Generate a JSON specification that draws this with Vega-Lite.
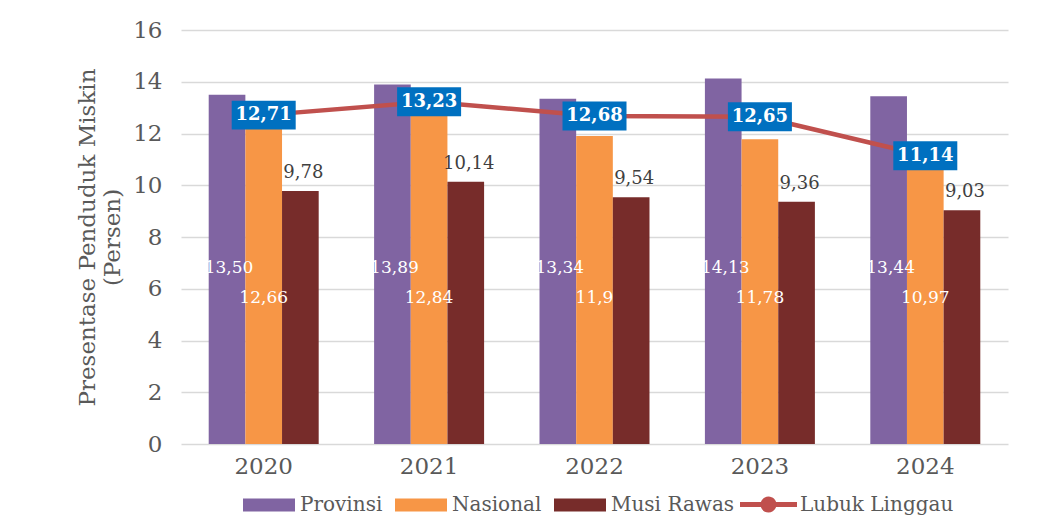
{
  "$schema": "https://vega.github.io/schema/vega-lite/v6.json",
  "width": 827,
  "height": 414,
  "autosize": {"type": "none"},
  "padding": {"left": 181, "top": 30, "right": 30, "bottom": 82},
  "background": "white",
  "config": {
    "font": "DejaVu Serif",
    "view": {"stroke": null}
  },
  "data": {
    "values": [
      {"year": "2020", "series": "Provinsi", "value": 13.50, "label": "13,50"},
      {"year": "2020", "series": "Nasional", "value": 12.66, "label": "12,66"},
      {"year": "2020", "series": "Musi Rawas", "value": 9.78, "label": "9,78"},
      {"year": "2020", "series": "Lubuk Linggau", "value": 12.71, "label": "12,71"},
      {"year": "2021", "series": "Provinsi", "value": 13.89, "label": "13,89"},
      {"year": "2021", "series": "Nasional", "value": 12.84, "label": "12,84"},
      {"year": "2021", "series": "Musi Rawas", "value": 10.14, "label": "10,14"},
      {"year": "2021", "series": "Lubuk Linggau", "value": 13.23, "label": "13,23"},
      {"year": "2022", "series": "Provinsi", "value": 13.34, "label": "13,34"},
      {"year": "2022", "series": "Nasional", "value": 11.9, "label": "11,9"},
      {"year": "2022", "series": "Musi Rawas", "value": 9.54, "label": "9,54"},
      {"year": "2022", "series": "Lubuk Linggau", "value": 12.68, "label": "12,68"},
      {"year": "2023", "series": "Provinsi", "value": 14.13, "label": "14,13"},
      {"year": "2023", "series": "Nasional", "value": 11.78, "label": "11,78"},
      {"year": "2023", "series": "Musi Rawas", "value": 9.36, "label": "9,36"},
      {"year": "2023", "series": "Lubuk Linggau", "value": 12.65, "label": "12,65"},
      {"year": "2024", "series": "Provinsi", "value": 13.44, "label": "13,44"},
      {"year": "2024", "series": "Nasional", "value": 10.97, "label": "10,97"},
      {"year": "2024", "series": "Musi Rawas", "value": 9.03, "label": "9,03"},
      {"year": "2024", "series": "Lubuk Linggau", "value": 11.14, "label": "11,14"}
    ]
  },
  "encoding": {
    "x": {
      "field": "year",
      "type": "nominal",
      "scale": {"paddingInner": 0.335, "paddingOuter": 0.1675},
      "axis": {
        "title": null,
        "labelAngle": 0,
        "labelFontSize": 23,
        "labelColor": "#595959",
        "labelPadding": 11,
        "domain": false,
        "ticks": false
      }
    }
  },
  "layer": [
    {
      "transform": [{"filter": "datum.series !== 'Lubuk Linggau'"}],
      "mark": {"type": "bar"},
      "encoding": {
        "xOffset": {"field": "series", "type": "nominal", "scale": {"domain": ["Provinsi", "Nasional", "Musi Rawas"], "paddingInner": 0, "paddingOuter": 0}},
        "y": {
          "field": "value",
          "type": "quantitative",
          "scale": {"domain": [0, 16], "nice": false},
          "axis": {
            "values": [0, 2, 4, 6, 8, 10, 12, 14, 16],
            "title": ["Presentase Penduduk Miskin", "(Persen)"],
            "titleFontSize": 23,
            "titleFontWeight": "normal",
            "titleColor": "#595959",
            "titlePadding": 8,
            "labelFontSize": 23,
            "labelColor": "#595959",
            "labelPadding": 19,
            "domain": false,
            "ticks": false,
            "gridColor": "#D9D9D9",
            "gridWidth": 1.5
          }
        },
        "color": {
          "field": "series",
          "type": "nominal",
          "scale": {"domain": ["Provinsi", "Nasional", "Musi Rawas"], "range": ["#8064A2", "#F79646", "#772C2A"]},
          "legend": {
            "title": null,
            "orient": "none",
            "legendX": 62,
            "legendY": 449,
            "direction": "horizontal",
            "symbolType": "M-1,-0.25H1V0.25H-1Z",
            "symbolSize": 2704,
            "symbolStrokeWidth": 0,
            "labelFontSize": 20,
            "labelColor": "#595959",
            "labelOffset": 5,
            "columnPadding": 12
          }
        }
      }
    },
    {
      "transform": [{"filter": "datum.series === 'Provinsi'"}],
      "mark": {"type": "text", "color": "white", "fontSize": 17, "dx": 2},
      "encoding": {
        "xOffset": {"field": "series", "type": "nominal"},
        "y": {"datum": 6.8, "type": "quantitative"},
        "text": {"field": "label"}
      }
    },
    {
      "transform": [{"filter": "datum.series === 'Nasional'"}],
      "mark": {"type": "text", "color": "white", "fontSize": 17},
      "encoding": {
        "xOffset": {"field": "series", "type": "nominal"},
        "y": {"datum": 5.65, "type": "quantitative"},
        "text": {"field": "label"}
      }
    },
    {
      "transform": [{"filter": "datum.series === 'Musi Rawas'"}],
      "mark": {"type": "text", "color": "#404040", "fontSize": 18, "baseline": "bottom", "dy": -9, "dx": 3},
      "encoding": {
        "xOffset": {"field": "series", "type": "nominal"},
        "y": {"field": "value", "type": "quantitative"},
        "text": {"field": "label"}
      }
    },
    {
      "transform": [{"filter": "datum.series === 'Lubuk Linggau'"}],
      "mark": {"type": "line", "strokeWidth": 4.5},
      "encoding": {
        "y": {"field": "value", "type": "quantitative"},
        "stroke": {
          "field": "series",
          "type": "nominal",
          "scale": {"domain": ["Lubuk Linggau"], "range": ["#C0504D"]},
          "legend": {
            "title": null,
            "orient": "none",
            "legendX": 559,
            "legendY": 446,
            "direction": "horizontal",
            "symbolType": "M-1,-0.09H-0.26V0.09H-1Z M0.26,-0.09H1V0.09H0.26Z M-0.28,0A0.28,0.28 0 1,1 0.28,0A0.28,0.28 0 1,1 -0.28,0Z",
            "symbolSize": 3249,
            "symbolStrokeWidth": 0,
            "symbolFillColor": "#C0504D",
            "labelFontSize": 20,
            "labelColor": "#595959",
            "labelOffset": 3,
            "encode": {"symbols": {"update": {"fill": {"value": "#C0504D"}, "strokeWidth": {"value": 0}}}}
          }
        }
      }
    },
    {
      "transform": [{"filter": "datum.series === 'Lubuk Linggau'"}],
      "mark": {"type": "point", "shape": "M-1,-0.453H1V0.453H-1Z", "size": 4096, "filled": true, "color": "#0070C0", "opacity": 1, "strokeWidth": 0},
      "encoding": {
        "y": {"field": "value", "type": "quantitative"}
      }
    },
    {
      "transform": [{"filter": "datum.series === 'Lubuk Linggau'"}],
      "mark": {"type": "text", "color": "white", "fontSize": 18, "fontWeight": "bold"},
      "encoding": {
        "y": {"field": "value", "type": "quantitative"},
        "text": {"field": "label"}
      }
    }
  ]
}
